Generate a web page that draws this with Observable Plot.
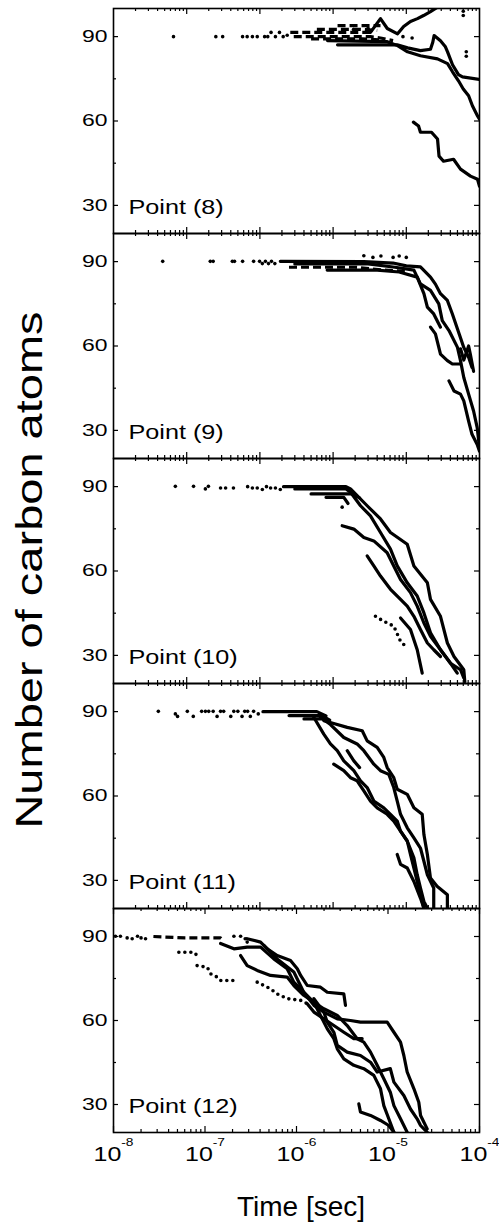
<!DOCTYPE html>
<html><head><meta charset="utf-8">
<script src="https://cdn.jsdelivr.net/npm/d3@7"></script>
<script src="https://cdn.jsdelivr.net/npm/@observablehq/plot@0.6"></script>
<style>
body{margin:0;background:#fff;}
#root{position:relative;width:499px;height:1228px;overflow:hidden;font-family:"Liberation Sans",Arial,sans-serif;color:#000;}
#ytitle{position:absolute;left:30px;top:570px;transform:translate(-50%,-50%) rotate(-90deg) scaleX(1.27);font-size:37px;white-space:nowrap;line-height:1.15;}
#xtitle{position:absolute;left:301px;top:1191px;transform:translateX(-50%);font-size:28px;white-space:nowrap;}
</style></head>
<body><div id="root"><div id="ytitle">Number of carbon atoms</div><div id="xtitle">Time [sec]</div></div>
<script>
const topDomain = [1e-9, 1e-4];
const bottomDomain = [1e-8, 1e-4];
const yDomain = [20, 100];
const yMajor = [30, 60, 90];
const yMinor = [45, 75];
const xMajorTop = [1e-8, 1e-7, 1e-6, 1e-5];
const xMajorBottom = [1e-8, 1e-7, 1e-6, 1e-5, 1e-4];
const panelLabels = ["Point (8)", "Point (9)", "Point (10)", "Point (11)", "Point (12)"];

// ---- Point (8) ----
const p8Dots = [[6.6e-9,90],[2.5e-8,90],[3.1e-8,90],[5.8e-8,90],[6.7e-8,90],[7.9e-8,90],[9.2e-8,90],[1.16e-7,90],[1.28e-7,90],[1.42e-7,91.5],[1.63e-7,90],[1.85e-7,91.5],[2.08e-7,90],[2.36e-7,90.5],[1.9e-6,92.5],[3.0e-6,93],[9e-6,90],[1.2e-5,89.5],[6.0e-5,99],[6.0e-5,97.5],[6.6e-5,84.6],[6.6e-5,83]];
const p8Lines = [
 [[8.4e-7,88.6],[5.5e-6,88.2],[7.6e-6,86.8],[1.04e-5,84.6],[1.56e-5,83.2],[2.67e-5,82.1],[3.66e-5,80.4],[4.28e-5,77.5],[5.16e-5,74.3],[6.0e-5,71.4],[7.1e-5,69],[8.0e-5,65.4],[9.4e-5,61.8],[1e-4,60.6]],
 [[1.15e-6,87.1],[7.5e-6,87.1],[1.04e-5,86],[1.56e-5,85],[2.14e-5,85.5],[2.3e-5,88],[2.4e-5,90.4],[2.93e-5,88.5],[3.4e-5,86.5],[3.66e-5,84.6],[4.28e-5,80],[5.16e-5,76.5],[5.86e-5,75.7],[1e-4,74.8]],
 [[3.24e-6,91.5],[4.44e-6,96.4],[5.5e-6,92.9],[7.6e-6,91],[9.2e-6,93.6],[1.14e-5,95.4],[1.42e-5,96.4],[1.72e-5,97.5],[2.14e-5,98.9],[2.67e-5,100.5]],
 [[1.25e-5,59.6],[1.47e-5,58.2],[1.56e-5,56],[2.21e-5,56],[2.67e-5,53.6],[2.8e-5,47.5],[3.22e-5,45.7],[4.42e-5,46.4],[5.5e-5,42.9],[7.53e-5,40.4],[9.4e-5,39.3],[1e-4,36.8]]
];
const p8Dashed = [
 [[1.15e-6,93.9],[4.44e-6,93.9]],
 [[2.6e-7,91.5],[3.24e-6,91.5]],
 [[2.9e-7,90],[3.24e-6,90],[4.44e-6,89.5],[6.6e-6,88.6]],
 [[6e-7,92.6],[2.2e-6,92.6],[4e-6,92.2]],
 [[5e-7,89.2],[2.5e-6,89.2],[5e-6,88.8]]
];
const p8Dotted = [];

// ---- Point (9) ----
const p9Dots = [[4.7e-9,90.1],[2.1e-8,90.1],[2.3e-8,90.1],[4.2e-8,90.1],[4.5e-8,90.1],[5.8e-8,90.1],[8.2e-8,90.1],[9.9e-8,90.1],[1.08e-7,89.3],[1.19e-7,90.1],[1.31e-7,89.3],[1.44e-7,90.1],[1.6e-7,89.3],[2.63e-6,92.1],[3.5e-6,91.5],[4.5e-6,92],[6.6e-6,91.5],[8e-6,92],[1e-5,91.5]];
const p9Lines = [
 [[1.9e-7,90.1],[2.63e-6,90],[6.6e-6,89.5],[1.0e-5,88.5],[1.56e-5,88.1],[2.14e-5,84.5],[2.5e-5,82],[2.93e-5,78.6],[3.64e-5,76.2],[4.26e-5,71.4],[5.28e-5,64.3],[6.1e-5,59.5],[7.1e-5,56],[7.9e-5,52.4]],
 [[3e-7,89.2],[3e-6,89.2],[7e-6,88],[1.27e-5,87],[1.56e-5,82.1],[2.14e-5,79.8],[2.78e-5,75],[3.1e-5,69],[3.83e-5,65.5],[5.0e-5,59.5],[5.5e-5,54.8],[6.1e-5,48.8],[7.1e-5,42.9],[8.3e-5,36.9],[9.3e-5,31],[1e-4,23.8]],
 [[8.3e-7,87],[4e-6,87],[8e-6,86.3],[1.41e-5,84.5],[1.74e-5,78.6],[1.94e-5,73.8],[2.37e-5,71.4],[2.93e-5,66.7]],
 [[2.14e-5,66.7],[2.5e-5,64.3],[2.93e-5,57.1],[3.64e-5,54.8],[4.26e-5,53.6],[5.5e-5,53.6]],
 [[3.83e-5,47.6],[4.49e-5,44],[5.5e-5,42.9],[6.1e-5,40.5],[7.1e-5,33.3],[7.9e-5,28.6],[9.3e-5,25],[1e-4,22.6]],
 [[5.5e-5,59],[6.1e-5,55],[7.1e-5,60],[7.5e-5,57],[8.3e-5,51]]
];
const p9Dashed = [[[2.5e-7,88],[2e-6,88],[5e-6,87],[1e-5,86.5]]];
const p9Dotted = [];

// ---- Point (10) ----
const p10Dots = [[7.0e-9,90.1],[1.24e-8,90.1],[1.8e-8,89.2],[1.98e-8,90.1],[2.9e-8,89.5],[3.4e-8,89.5],[4.35e-8,89.5],[6.8e-8,90],[7.9e-8,89.5],[9.2e-8,89.5],[1.08e-7,89],[1.23e-7,90],[1.4e-7,89.5],[1.63e-7,89.5],[1.9e-7,89],[1.33e-6,82.7]];
const p10Lines = [
 [[2.1e-7,90],[1.5e-6,90],[1.73e-6,89.2],[2.92e-6,83.2],[4.44e-6,78.5],[6.08e-6,73.7],[1.03e-5,69.5],[1.27e-5,61.8],[1.94e-5,55.8],[2.14e-5,49.9],[2.93e-5,43.9],[3.64e-5,34.4],[4.48e-5,29.6],[6.1e-5,24.9],[6.3e-5,20.7]],
 [[3e-7,89.2],[1.5e-6,89.2],[1.73e-6,88],[2.37e-6,83.2],[3.24e-6,79.6],[4.44e-6,73.7],[6.08e-6,67.8],[7.52e-6,61.8],[1.03e-5,55.8],[1.41e-5,51.1],[1.74e-5,45.1],[2.14e-5,38],[2.93e-5,32],[4.02e-5,27.2],[5.5e-5,24.9],[6.1e-5,22]],
 [[1.33e-6,76.1],[1.92e-6,74.9],[2.63e-6,71.9],[3.6e-6,70.7],[5.48e-6,66.5],[6.74e-6,61.8],[8.34e-6,57],[1.14e-5,52.3],[1.41e-5,47.5],[1.74e-5,41.5],[2.14e-5,36.8],[2.93e-5,32],[4.02e-5,27.2],[4.97e-5,23.7]],
 [[2.92e-6,65.4],[3.6e-6,61.8],[4.44e-6,58.2],[6.08e-6,53.5],[8.34e-6,49.9],[1.03e-5,47.5],[1.27e-5,43.9],[1.56e-5,39.2],[1.94e-5,34.4],[2.37e-5,32],[2.93e-5,29.6]],
 [[8.34e-6,43.3],[1.14e-5,39.2],[1.41e-5,32],[1.65e-5,23.7]],
 [[5e-7,87.4],[1.8e-6,87.4],[2.3e-6,86]],
 [[8e-7,86.2],[1.4e-6,86.2],[1.6e-6,84]]
];
const p10Dashed = [];
const p10Dotted = [[[3.79e-6,43.9],[4.93e-6,42.1],[6.74e-6,40.4],[8.34e-6,35],[1.03e-5,32.6]]];

// ---- Point (11) ----
const p11Dots = [[4.1e-9,90.1],[7.0e-9,89.2],[7.5e-9,88.3],[1.02e-8,90.1],[1.23e-8,88.3],[1.6e-8,90.1],[1.8e-8,90.1],[2.0e-8,90.1],[2.3e-8,90.1],[2.6e-8,88.3],[2.9e-8,90.1],[3.2e-8,90.1],[4.0e-8,88.3],[4.4e-8,90.1],[5.0e-8,90.1],[5.7e-8,88.3],[6.2e-8,90.1],[6.8e-8,90.1],[7.4e-8,88.3],[8.2e-8,90.1],[9.5e-8,89.2]];
const p11Lines = [
 [[7.46e-7,86.8],[1.02e-6,85.8],[1.56e-6,84.4],[2.5e-6,83.2],[2.92e-6,79.6],[4.0e-6,77.3],[4.93e-6,73.7],[5.48e-6,70.1],[6.74e-6,66.5],[7.52e-6,62.4],[1.03e-5,60.6],[1.27e-5,55.8],[1.65e-5,53.5],[1.74e-5,46.3],[1.94e-5,39.2],[2.14e-5,30.8],[2.63e-5,27.9],[3.64e-5,24.9],[3.64e-5,20.1]],
 [[6.7e-7,88],[9.2e-7,85.4],[1.4e-6,80.8],[2.13e-6,78.5],[2.63e-6,76.1],[3.6e-6,71.3],[4.44e-6,69],[5.77e-6,67.7],[6.74e-6,63],[7.52e-6,58.2],[8.34e-6,53.5],[1.03e-5,48.7],[1.27e-5,45.1],[1.56e-5,41.5],[1.74e-5,36.8],[1.94e-5,32],[2.37e-5,27.3],[2.37e-5,20.1]],
 [[5.44e-7,88],[7.46e-7,82],[9.2e-7,78.5],[1.14e-6,76.1],[1.4e-6,72.5],[1.92e-6,69],[2.37e-6,65.4],[2.92e-6,63],[3.6e-6,58.2],[4.93e-6,55.8],[6.08e-6,53.5],[7.52e-6,51.1],[8.34e-6,47.5],[1.03e-5,44],[1.27e-5,38],[1.41e-5,32],[1.56e-5,27.3],[1.74e-5,22.5],[1.94e-5,20.1]],
 [[1.02e-6,71.3],[1.4e-6,69],[1.73e-6,66.5],[2.13e-6,65.4],[2.63e-6,61.8],[3.24e-6,58.2],[4.0e-6,55.8],[5.48e-6,53.5],[6.74e-6,51.1],[8.34e-6,47.5],[1.03e-5,44],[1.14e-5,39.2],[1.27e-5,34.4],[1.41e-5,29.6],[1.56e-5,24.9],[1.74e-5,20.1]],
 [[1.56e-6,76.1],[1.92e-6,72.5],[2.3e-6,70.1]],
 [[7.52e-6,39.2],[8.34e-6,35.7],[1.03e-5,34.4],[1.27e-5,29.6],[1.56e-5,23.7],[1.74e-5,20.1]],
 [[1.1e-7,90],[6e-7,90],[8e-7,88.5]],
 [[2.5e-7,88.6],[7e-7,88.6],[9e-7,87]],
 [[4e-7,87.4],[8e-7,87.4]]
];
const p11Dashed = [];
const p11Dotted = [];

// ---- Point (12) ----
const p12Dots = [[1.05e-8,90.1],[1.19e-8,90.1],[1.41e-8,89.5],[1.6e-8,89.2],[1.83e-8,90.1],[2.0e-8,89.5],[2.24e-8,89.2],[2.07e-7,90.1],[2.45e-7,90.1],[2.75e-7,89.2],[2.89e-7,88.0]];
const p12Lines = [
 [[2.89e-7,89.2],[4.05e-7,88.0],[4.79e-7,85.6],[6.15e-7,83.2],[8.6e-7,81.4],[1.02e-6,78.5],[1.11e-6,76.1],[1.31e-6,72.5],[1.83e-6,71.9],[2.17e-6,70.1],[3.29e-6,69.5],[3.43e-6,65.4]],
 [[4.4e-7,86.8],[6.15e-7,82.0],[9.35e-7,77.3],[1.2e-6,70.1],[1.55e-6,65.4],[1.99e-6,63.0],[2.79e-6,60.6],[3.89e-6,60.0],[5.0e-6,59.4],[9.8e-6,59.4],[1.16e-5,55.8],[1.37e-5,52.3],[1.49e-5,47.5],[1.62e-5,41.6],[1.92e-5,35.6],[2.17e-5,30.8],[2.27e-5,26.1],[2.68e-5,21.3]],
 [[1.48e-7,87.5],[2.07e-7,85.6],[2.89e-7,86.2],[4.05e-7,86.2],[5.65e-7,82.0],[7.91e-7,78.5],[9.35e-7,73.7],[1.2e-6,70.1],[1.55e-6,66.5],[1.99e-6,64.2],[2.79e-6,61.8],[3.58e-6,58.2],[4.6e-6,53.5],[5.44e-6,52.3],[6.44e-6,48.7],[7.62e-6,44.0],[9.0e-6,39.2],[1.06e-5,34.4],[1.16e-5,29.6],[1.37e-5,24.9],[1.62e-5,20.1]],
 [[2.45e-7,83.2],[2.89e-7,79.6],[3.72e-7,77.9],[5.2e-7,76.1],[7.91e-7,75.5],[9.35e-7,72.5],[1.2e-6,69.0],[1.55e-6,66.5],[1.83e-6,61.8],[2.17e-6,57.0],[2.56e-6,53.5],[2.79e-6,49.9],[3.29e-6,46.3],[4.23e-6,44.0],[5.44e-6,42.8],[7.0e-6,40.4],[8.28e-6,35.6],[9.0e-6,29.6],[1.02e-5,24.9],[1.16e-5,20.1]],
 [[1.55e-6,67.8],[1.99e-6,63.0],[2.17e-6,59.4],[2.56e-6,55.8],[2.79e-6,51.1],[3.58e-6,48.7],[5.0e-6,47.5],[6.44e-6,45.1],[7.62e-6,41.6],[1.06e-5,42.8],[1.16e-5,38.0],[1.49e-5,33.2],[1.76e-5,28.4],[2.08e-5,24.9],[2.27e-5,22.5],[2.68e-5,20.1]],
 [[4.8e-6,30.2],[5.0e-6,27.3],[6.44e-6,26.1],[8.28e-6,24.3],[1.02e-5,22.5],[1.16e-5,20.1]],
 [[1.31e-6,66],[1.55e-6,63],[1.99e-6,60.6],[2.56e-6,58.2],[3.29e-6,55.8],[4.23e-6,53.5],[5.22e-6,53.5]]
];
const p12Dashed = [[[2.73e-8,90],[6e-8,89.5],[1.48e-7,89.5],[1.6e-7,88.5]]];
const p12Dotted = [
 [[5.18e-8,84.4],[7.55e-8,84.4],[8.2e-8,83.2]],
 [[8.2e-8,79.6],[1.06e-7,79.0],[1.15e-7,76.7],[1.36e-7,75.5],[1.48e-7,74.3],[2.25e-7,74.3]],
 [[3.72e-7,73.7],[5.2e-7,71.3],[6.15e-7,69.5],[7.91e-7,67.8],[1.11e-6,67.2],[1.31e-6,66]]
];

const panels = [
 {label: panelLabels[0], dots: p8Dots, lines: p8Lines, dashed: p8Dashed, dotted: p8Dotted},
 {label: panelLabels[1], dots: p9Dots, lines: p9Lines, dashed: p9Dashed, dotted: p9Dotted},
 {label: panelLabels[2], dots: p10Dots, lines: p10Lines, dashed: p10Dashed, dotted: p10Dotted},
 {label: panelLabels[3], dots: p11Dots, lines: p11Lines, dashed: p11Dashed, dotted: p11Dotted},
 {label: panelLabels[4], dots: p12Dots, lines: p12Lines, dashed: p12Dashed, dotted: p12Dotted, bottom: true}
];
const panelTops = [8, 233, 458, 683, 908];

function isMajor(v) { const l = Math.log10(v); return Math.abs(l - Math.round(l)) < 1e-6; }

function stretch(svg, selector, s) {
  svg.querySelectorAll(selector).forEach(t => {
    const tr = t.getAttribute("transform");
    if (tr) t.setAttribute("transform", tr + ` scale(${s},1)`);
    else {
      const x = +(t.getAttribute("x") || 0), y = +(t.getAttribute("y") || 0);
      t.removeAttribute("x"); t.removeAttribute("y");
      t.setAttribute("transform", `translate(${x},${y}) scale(${s},1)`);
    }
  });
}

const root = document.getElementById("root");
const W = 499, ML = 113, MR = 20, MT = 3;
const innerW = W - ML - MR;

panels.forEach((p, i) => {
  const bottom = !!p.bottom;
  const innerH = bottom ? 224 : 225;
  const MB = bottom ? 60 : 3;
  const dom = bottom ? bottomDomain : topDomain;
  const xMajor = bottom ? xMajorBottom : xMajorTop;
  const xMinor = d3.scaleLog().domain(dom).ticks().filter(v => !isMajor(v));
  const xy = {x: d => d[0], y: d => d[1]};
  const lineOpts = {...xy, curve: "linear", stroke: "black", strokeWidth: 3.2, strokeLinejoin: "round", strokeLinecap: "round", clip: true};
  const tk = {stroke: "black", strokeWidth: 1.2};
  const marks = [
    ...p.lines.map(l => Plot.line(l, lineOpts)),
    ...p.dashed.map(l => Plot.line(l, {...lineOpts, strokeDasharray: "8 4", strokeLinecap: "butt"})),
    ...p.dotted.map(l => Plot.line(l, {...lineOpts, strokeWidth: 3.6, strokeDasharray: "0 6"})),
    Plot.dot(p.dots, {...xy, r: 1.8, fill: "black", clip: true}),
    Plot.tickY(yMajor, {y: d => d, insetRight: innerW - 5, ...tk}),
    Plot.tickY(yMajor, {y: d => d, insetLeft: innerW - 5, ...tk}),
    Plot.tickY(yMinor, {y: d => d, insetRight: innerW - 3, ...tk}),
    Plot.tickY(yMinor, {y: d => d, insetLeft: innerW - 3, ...tk}),
    Plot.tickX(xMajor, {x: d => d, insetTop: innerH - 6, ...tk}),
    Plot.tickX(xMajor, {x: d => d, insetBottom: innerH - 6, ...tk}),
    Plot.tickX(xMinor, {x: d => d, insetTop: innerH - 3, ...tk}),
    Plot.tickX(xMinor, {x: d => d, insetBottom: innerH - 3, ...tk}),
    Plot.frame({stroke: "black", strokeWidth: 1.6}),
    Plot.axisY(yMajor, {anchor: "left", tickSize: 0, tickPadding: 6, fontSize: 17, label: null}),
    Plot.text([p.label], {frameAnchor: "bottom-left", text: d => d, dx: 15, dy: -26, fontSize: 21, textAnchor: "start", lineAnchor: "middle"})
  ];
  if (bottom) {
    marks.push(Plot.axisX(xMajorBottom, {anchor: "bottom", tickSize: 0, tickPadding: 14, fontSize: 20, label: null,
      tickFormat: d => "10^" + Math.round(Math.log10(d))}));
  }
  const svg = Plot.plot({
    width: W, height: MT + innerH + MB,
    marginLeft: ML, marginRight: MR, marginTop: MT, marginBottom: MB,
    x: {type: "log", domain: dom, axis: null},
    y: {domain: yDomain, axis: null},
    style: "background: transparent; overflow: visible; font-family: 'Liberation Sans', Arial, sans-serif; color: black;",
    marks
  });
  if (bottom) {
    svg.querySelectorAll('g[aria-label="x-axis tick label"] text').forEach(t => {
      const parts = t.textContent.split("^");
      t.textContent = parts[0];
      const ts = document.createElementNS("http://www.w3.org/2000/svg", "tspan");
      ts.setAttribute("dy", "-15");
      ts.setAttribute("font-size", "11");
      ts.textContent = parts[1];
      t.appendChild(ts);
    });
    stretch(svg, 'g[aria-label="x-axis tick label"] text', 1.25);
  }
  stretch(svg, 'g[aria-label="y-axis tick label"] text', 1.35);
  stretch(svg, 'g[aria-label="text"] text', 1.2);
  svg.style.position = "absolute";
  svg.style.left = "0px";
  svg.style.top = (panelTops[i] - MT) + "px";
  root.appendChild(svg);
});
</script>
</body></html>
